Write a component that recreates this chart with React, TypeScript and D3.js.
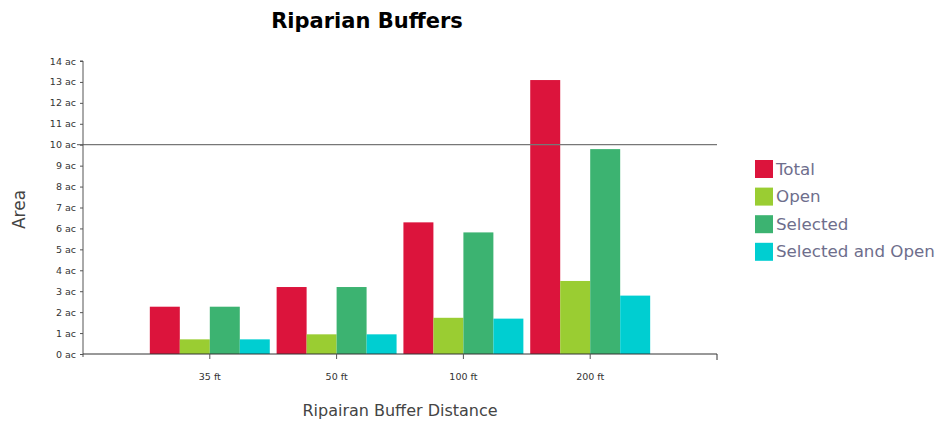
import React, { useEffect, useRef } from "react";
import * as d3 from "d3";

const categories = ["35 ft", "50 ft", "100 ft", "200 ft"];
const seriesNames = ["Total", "Open", "Selected", "Selected and Open"];
const seriesColors = ["#DC143C", "#9ACD32", "#3CB371", "#00CED1"];
const totalValues = [2.26, 3.2, 6.29, 13.09];
const openValues = [0.7, 0.94, 1.73, 3.49];
const selectedValues = [2.26, 3.2, 5.81, 9.79];
const selOpenValues = [0.7, 0.94, 1.69, 2.79];
const yTicks = d3.range(0, 15);
const referenceValue = 10;

const W = 939;
const H = 423;
const font = "Tahoma, 'DejaVu Sans', Verdana, sans-serif";

export default function App() {
  const ref = useRef<SVGSVGElement>(null);
  useEffect(() => {
    const svg = d3.select(ref.current);
    svg.selectAll("*").remove();
    const left = 83, right = 717, top = 61, bottom = 354;
    const allSeries = [totalValues, openValues, selectedValues, selOpenValues];

    const y = d3.scaleLinear().domain([0, 14]).range([bottom, top]);
    const step = (right - left) / (categories.length + 1);
    const x = d3.scaleBand().domain(categories).range([left + step / 2, right - step / 2]).padding(0);
    const groupW = x.bandwidth() * 0.946;
    const xs = d3.scaleBand().domain(seriesNames).range([0, groupW]).padding(0);

    // title
    svg.append("text").attr("x", 367).attr("y", 28).attr("text-anchor", "middle")
      .attr("font-family", font).attr("font-weight", "bold").attr("font-size", 21).attr("fill", "#000")
      .text("Riparian Buffers");

    // bars
    allSeries.forEach((vals, si) => {
      svg.append("g").selectAll("rect").data(vals).join("rect")
        .attr("x", (_, i) => (x(categories[i]) as number) + (x.bandwidth() - groupW) / 2 + (xs(seriesNames[si]) as number))
        .attr("y", (d) => y(d))
        .attr("width", xs.bandwidth())
        .attr("height", (d) => y(0) - y(d))
        .attr("fill", seriesColors[si]);
    });

    // reference line at 10
    svg.append("line").attr("x1", left - 6).attr("x2", right).attr("y1", y(referenceValue)).attr("y2", y(referenceValue))
      .attr("stroke", "#777").attr("stroke-width", 1.2);

    // y axis
    const ya = svg.append("g").attr("transform", `translate(${left},0)`)
      .call(d3.axisLeft(y).tickValues(yTicks).tickSize(3).tickFormat((d) => `${d} ac`));
    ya.select(".domain").attr("stroke", "#555").attr("d", `M-3,${top}H0V${bottom + 3}`);
    ya.selectAll(".tick line").attr("stroke", "#555");
    ya.selectAll(".tick text").attr("font-family", font).attr("font-size", 9.5).attr("fill", "#333").attr("x", -7);

    // x axis
    const xa = svg.append("g").attr("transform", `translate(0,${bottom})`)
      .call(d3.axisBottom(x).tickSize(5).tickSizeOuter(0));
    xa.select(".domain").attr("stroke", "#333").attr("d", `M${left},0H${right}V6`);
    xa.selectAll(".tick line").attr("stroke", "#555");
    xa.selectAll(".tick text").attr("font-family", font).attr("font-size", 9.5).attr("fill", "#333").attr("y", 19);

    // axis titles
    svg.append("text").attr("transform", `translate(25,${(top + bottom) / 2 + 2}) rotate(-90)`)
      .attr("text-anchor", "middle").attr("font-family", font).attr("font-size", 17).attr("fill", "#444")
      .text("Area");
    svg.append("text").attr("x", 400).attr("y", 416).attr("text-anchor", "middle")
      .attr("font-family", font).attr("font-size", 16).attr("fill", "#444")
      .text("Ripairan Buffer Distance");

    // legend
    const lg = svg.append("g").attr("transform", "translate(755,160)");
    seriesNames.forEach((name, i) => {
      const g = lg.append("g").attr("transform", `translate(0,${i * 27.6})`);
      g.append("rect").attr("width", 18).attr("height", 18).attr("fill", seriesColors[i]);
      g.append("text").attr("x", 21).attr("y", 14.5).attr("font-family", font).attr("font-size", 16.7)
        .attr("fill", "#6e6e8c").text(name);
    });
  }, []);
  return (
    <svg ref={ref} width={W} height={H} style={{ position: "absolute", left: 0, top: 0, background: "#fff" }} />
  );
}
